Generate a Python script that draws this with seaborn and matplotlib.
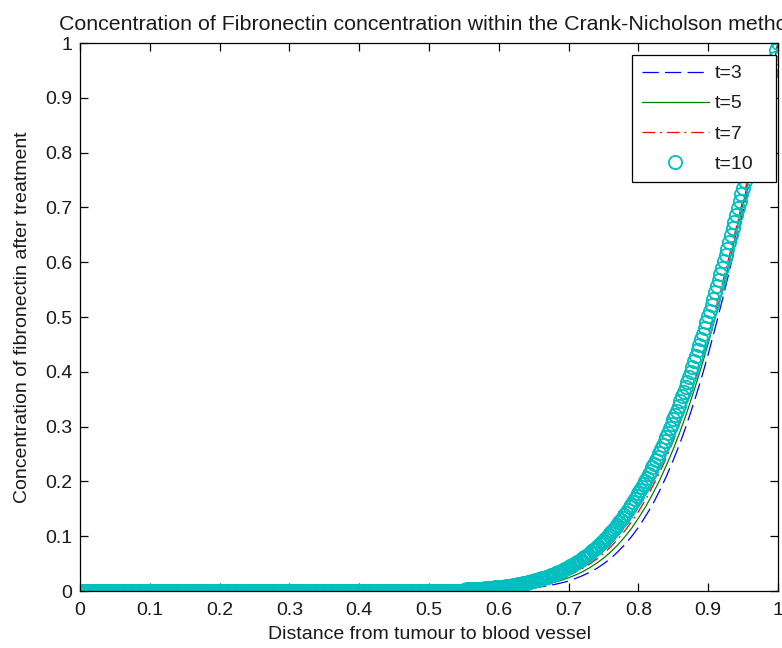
import numpy as np
import pandas as pd
import matplotlib
matplotlib.use("Agg")
import matplotlib.pyplot as plt
import seaborn as sns

# Distance grid for the three line solutions (flat zero region, then 0.50 .. 1.00)
x_line = [0.0] + [round(0.50 + 0.01 * i, 2) for i in range(51)]

# Concentration profiles for t=3, t=5, t=7 on x_line
t3 = [0.0,
      0.0001, 0.0001, 0.0002, 0.0002, 0.0003, 0.0004, 0.0006, 0.0008, 0.0010, 0.0013,
      0.0017, 0.0022, 0.0028, 0.0036, 0.0047, 0.0060, 0.0076, 0.0095, 0.012, 0.015,
      0.018, 0.023, 0.028, 0.034, 0.041, 0.0495, 0.059, 0.071, 0.084, 0.099,
      0.116, 0.136, 0.157, 0.182, 0.209, 0.239, 0.271, 0.307, 0.346, 0.387,
      0.432, 0.480, 0.530, 0.582, 0.637, 0.694, 0.753, 0.814, 0.875, 0.937, 1.0]
t5 = [0.0,
      0.0002, 0.0002, 0.0003, 0.0004, 0.0005, 0.0007, 0.0009, 0.0012, 0.0016, 0.0021,
      0.0027, 0.0033, 0.0042, 0.0054, 0.0068, 0.0085, 0.0105, 0.0131, 0.0161, 0.0197,
      0.0241, 0.0292, 0.0352, 0.0423, 0.0506, 0.060, 0.071, 0.0835, 0.098, 0.114,
      0.133, 0.153, 0.176, 0.201, 0.229, 0.259, 0.292, 0.328, 0.367, 0.408,
      0.452, 0.499, 0.547, 0.599, 0.652, 0.707, 0.763, 0.821, 0.880, 0.940, 1.0]
t7 = [0.0,
      0.0003, 0.0004, 0.0005, 0.0006, 0.0008, 0.0010, 0.0013, 0.0017, 0.0022, 0.0028,
      0.0035, 0.0044, 0.0056, 0.0070, 0.0087, 0.0107, 0.0132, 0.0162, 0.0197, 0.0239,
      0.0288, 0.0345, 0.041, 0.049, 0.058, 0.0685, 0.080, 0.094, 0.109, 0.126,
      0.145, 0.166, 0.190, 0.215, 0.243, 0.274, 0.308, 0.343, 0.381, 0.422,
      0.466, 0.512, 0.560, 0.610, 0.662, 0.716, 0.771, 0.827, 0.884, 0.942, 1.0]

# Fine distance grid for the t=10 markers (0 .. 1 in steps of 0.0025)
x_fine = [round(0.0025 * i, 4) for i in range(401)]
# t=10: zero up to x=0.5475, then the rising profile from x=0.55 to x=1
t10 = [0.0] * 220 + [
    0.0025, 0.0026, 0.0028, 0.0029, 0.0031, 0.0033, 0.0034, 0.0036, 0.0038, 0.0040,
    0.0042, 0.0045, 0.0047, 0.0050, 0.0052, 0.0055, 0.0058, 0.0061, 0.0064, 0.0068,
    0.0071, 0.0075, 0.0078, 0.0082, 0.0087, 0.0091, 0.0095, 0.0100, 0.0105, 0.0110,
    0.0116, 0.0122, 0.0127, 0.0133, 0.0139, 0.0147, 0.0153, 0.0161, 0.0168, 0.0176,
    0.0183, 0.0192, 0.0202, 0.0211, 0.0221, 0.0231, 0.0241, 0.0252, 0.0262, 0.0274,
    0.0287, 0.0299, 0.0311, 0.0325, 0.0339, 0.0354, 0.0369, 0.0385, 0.0400, 0.0417,
    0.0434, 0.0452, 0.0470, 0.0489, 0.0509, 0.0529, 0.0549, 0.0571, 0.0594, 0.0617,
    0.0641, 0.0665, 0.0691, 0.0716, 0.0744, 0.0771, 0.0800, 0.083, 0.086, 0.089,
    0.092, 0.0956, 0.099, 0.1025, 0.106, 0.110, 0.113, 0.117, 0.121, 0.126,
    0.130, 0.134, 0.139, 0.143, 0.148, 0.1525, 0.157, 0.162, 0.167, 0.173,
    0.178, 0.184, 0.189, 0.195, 0.201, 0.207, 0.213, 0.219, 0.226, 0.232,
    0.239, 0.245, 0.252, 0.259, 0.267, 0.274, 0.281, 0.289, 0.297, 0.305,
    0.313, 0.321, 0.329, 0.337, 0.346, 0.355, 0.363, 0.372, 0.381, 0.391,
    0.400, 0.409, 0.419, 0.429, 0.439, 0.449, 0.459, 0.469, 0.4795, 0.490,
    0.501, 0.511, 0.522, 0.533, 0.545, 0.556, 0.567, 0.579, 0.590, 0.602,
    0.614, 0.625, 0.637, 0.649, 0.662, 0.674, 0.686, 0.699, 0.711, 0.724,
    0.736, 0.749, 0.762, 0.775, 0.788, 0.801, 0.814, 0.827, 0.840, 0.853,
    0.866, 0.880, 0.893, 0.906, 0.920, 0.933, 0.946, 0.960, 0.973, 0.987,
    1.0]

x_ticks = [0, 0.1, 0.2, 0.3, 0.4, 0.5, 0.6, 0.7, 0.8, 0.9, 1]
y_ticks = [0, 0.1, 0.2, 0.3, 0.4, 0.5, 0.6, 0.7, 0.8, 0.9, 1]
tick_text = ["0", "0.1", "0.2", "0.3", "0.4", "0.5", "0.6", "0.7", "0.8", "0.9", "1"]

lines_df = pd.DataFrame({"x": x_line, "t=3": t3, "t=5": t5, "t=7": t7})
fine_df = pd.DataFrame({"x": x_fine, "t=10": t10})

sns.set_theme(style="white")
plt.rcParams["font.family"] = ["Liberation Sans", "DejaVu Sans"]
FS = 14
TXT = "#1a1a1a"
CYAN = "#00bfbf"

fig = plt.figure(figsize=(7.82, 6.48), dpi=100, facecolor="white")
ax = fig.add_axes([80 / 782, 1 - 591 / 648, 698 / 782, 548 / 648])
ax.set_facecolor("white")

sns.lineplot(data=lines_df, x="x", y="t=3", ax=ax, color="#0000ff", lw=0.9,
             label="t=3", sort=False)
sns.lineplot(data=lines_df, x="x", y="t=5", ax=ax, color="#008000", lw=0.9,
             label="t=5", sort=False)
sns.lineplot(data=lines_df, x="x", y="t=7", ax=ax, color="#ff0000", lw=0.9,
             label="t=7", sort=False)
sns.lineplot(data=fine_df, x="x", y="t=10", ax=ax, color=CYAN, lw=0,
             linestyle="none", marker="o", markersize=9.5, markerfacecolor="none",
             markeredgecolor=CYAN, markeredgewidth=1.3, label="t=10", sort=False)

ax.lines[0].set_dashes((13, 5))
ax.lines[2].set_dashes((10, 4, 1.5, 4))

ax.set_xlim(0, 1)
ax.set_ylim(0, 1)
ax.set_xticks(x_ticks)
ax.set_xticklabels(tick_text)
ax.set_yticks(y_ticks)
ax.set_yticklabels(tick_text)
ax.tick_params(direction="in", length=6, width=0.9, color="black", labelsize=FS,
               labelcolor=TXT, top=True, right=True, bottom=True, left=True)
ax.tick_params(axis="x", pad=8)
ax.tick_params(axis="y", pad=5.5)
for sp in ax.spines.values():
    sp.set_visible(True)
    sp.set_color("black")
    sp.set_linewidth(0.9)

ax.set_xlabel("Distance from tumour to blood vessel", fontsize=FS, color=TXT,
              labelpad=5)
ax.set_ylabel("Concentration of fibronectin after treatment", fontsize=FS,
              color=TXT, labelpad=10)
ax.set_title("Concentration of Fibronectin concentration within the Crank-Nicholson method",
             fontsize=FS * 1.1, color=TXT, pad=9)

leg = ax.legend(loc="upper left", bbox_to_anchor=(0.791, 0.3, 0.2063, 0.678),
                mode="expand", fontsize=FS, frameon=True, fancybox=False,
                framealpha=1, edgecolor="black", handlelength=3.45,
                handletextpad=0.3, labelspacing=0.64, borderpad=0.5,
                borderaxespad=0, numpoints=1)
leg.get_frame().set_linewidth(0.9)
for txt in leg.get_texts():
    txt.set_color(TXT)

fig.savefig("out.png", dpi=100, facecolor="white")
